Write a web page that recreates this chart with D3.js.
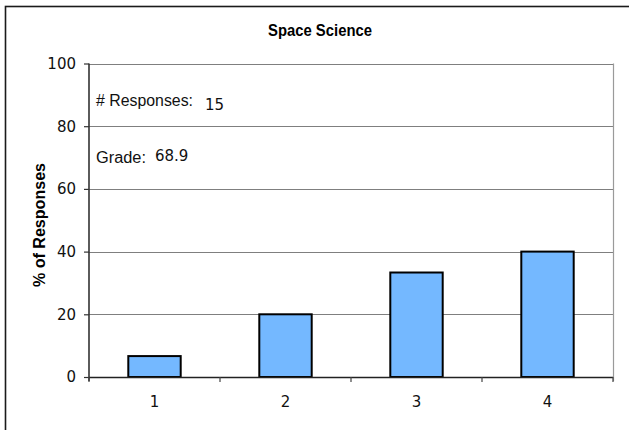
<!DOCTYPE html>
<html>
<head>
<meta charset="utf-8">
<script src="https://cdn.jsdelivr.net/npm/d3@7"></script>
<style>
  html, body { margin: 0; padding: 0; background: #fff; }
  svg { display: block; }
</style>
</head>
<body>
<svg id="chart" width="629" height="430"></svg>
<script>
const categories = ["1", "2", "3", "4"];
const percentages = [6.67, 20, 33.33, 40];
const yTicks = [0, 20, 40, 60, 80, 100];
const chartTitle = "Space Science";
const yTitle = "% of Responses";
const responsesLabel = "# Responses:";
const responsesValue = "15";
const gradeLabel = "Grade:";
const gradeValue = "68.9";

(function () {
const svg = d3.select("#chart");
const pLeft = 89, pRight = 613, pTop = 63.5, pBottom = 377;

// outer frame (extends past right/bottom edge)
svg.append("rect")
  .attr("x", 5.5).attr("y", 6.5).attr("width", 700).attr("height", 500)
  .attr("fill", "none").attr("stroke", "#1a1a1a").attr("stroke-width", 1.6);

const x = d3.scaleBand().domain(categories).range([pLeft, pRight])
  .paddingInner(0.6).paddingOuter(0.3);
const y = d3.scaleLinear().domain([0, 100]).range([pBottom, pTop]);

// gridlines
svg.append("g").selectAll("line").data(yTicks.filter(d => d > 0)).join("line")
  .attr("x1", pLeft).attr("x2", pRight)
  .attr("y1", d => Math.round(y(d)) + 0.5).attr("y2", d => Math.round(y(d)) + 0.5)
  .attr("stroke", "#7f7f7f").attr("stroke-width", 1);

// right plot border
svg.append("line")
  .attr("x1", pRight + 0.5).attr("x2", pRight + 0.5)
  .attr("y1", pTop).attr("y2", pBottom + 4)
  .attr("stroke", "#9a9a9a").attr("stroke-width", 1.2);

// bars
svg.append("g").selectAll("rect").data(percentages).join("rect")
  .attr("x", (d, i) => x(categories[i]))
  .attr("y", d => y(d))
  .attr("width", x.bandwidth())
  .attr("height", d => y(0) - y(d))
  .attr("fill", "#74b8ff")
  .attr("stroke", "#000").attr("stroke-width", 2);

// y axis
const yAxis = d3.axisLeft(y).tickValues(yTicks).tickSize(5).tickPadding(8)
  .tickFormat(d3.format("d"));
const gy = svg.append("g").attr("transform", `translate(${pLeft},0)`).call(yAxis);
gy.select(".domain").attr("stroke", "#333").attr("stroke-width", 1.6)
  .attr("d", `M0,${pTop}V${pBottom + 4}`);
gy.selectAll(".tick line").attr("stroke", "#333").attr("stroke-width", 1.2);
gy.selectAll(".tick text").attr("font-family", "DejaVu Sans").attr("font-size", 15)
  .attr("fill", "#111");

// x axis
const xEdges = categories.map((c, i) => pLeft + i * x.step()).concat([pRight]);
svg.append("line")
  .attr("x1", pLeft).attr("x2", pRight)
  .attr("y1", pBottom + 0.5).attr("y2", pBottom + 0.5)
  .attr("stroke", "#222").attr("stroke-width", 1.6);
svg.append("g").selectAll("line").data(xEdges).join("line")
  .attr("x1", d => d).attr("x2", d => d)
  .attr("y1", pBottom).attr("y2", pBottom + 5)
  .attr("stroke", "#444").attr("stroke-width", 1.2);
svg.append("g").selectAll("text").data(categories).join("text")
  .attr("x", d => x(d) + x.bandwidth() / 2)
  .attr("y", 407)
  .attr("text-anchor", "middle")
  .attr("font-family", "DejaVu Sans").attr("font-size", 15).attr("fill", "#111")
  .text(d => d);

// title
svg.append("text")
  .attr("x", 320).attr("y", 36)
  .attr("text-anchor", "middle")
  .attr("font-family", "Liberation Sans").attr("font-weight", "bold")
  .attr("font-size", 17).attr("textLength", 104).attr("lengthAdjust", "spacingAndGlyphs")
  .attr("fill", "#000")
  .text(chartTitle);

// y axis title
svg.append("text")
  .attr("transform", "translate(45,225) rotate(-90)")
  .attr("text-anchor", "middle")
  .attr("font-family", "Liberation Sans").attr("font-weight", "bold")
  .attr("font-size", 16).attr("textLength", 124).attr("lengthAdjust", "spacingAndGlyphs")
  .attr("fill", "#000")
  .text(yTitle);

// annotations
svg.append("text").attr("x", 96).attr("y", 106)
  .attr("font-family", "Liberation Sans").attr("font-size", 16).attr("fill", "#111")
  .attr("textLength", 97).attr("lengthAdjust", "spacingAndGlyphs")
  .text(responsesLabel);
svg.append("text").attr("x", 205).attr("y", 110)
  .attr("font-family", "DejaVu Sans").attr("font-size", 15).attr("fill", "#111")
  .text(responsesValue);
svg.append("text").attr("x", 96).attr("y", 163)
  .attr("font-family", "Liberation Sans").attr("font-size", 16).attr("fill", "#111")
  .attr("textLength", 50).attr("lengthAdjust", "spacingAndGlyphs")
  .text(gradeLabel);
svg.append("text").attr("x", 155).attr("y", 161)
  .attr("font-family", "DejaVu Sans").attr("font-size", 15).attr("fill", "#111")
  .text(gradeValue);
})();
</script>
</body>
</html>
